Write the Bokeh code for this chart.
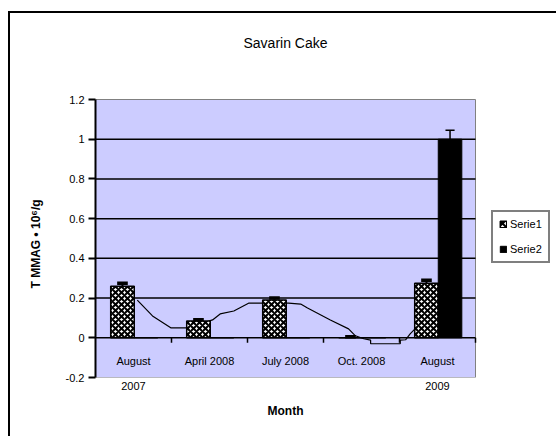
from bokeh.plotting import figure
from bokeh.models import (Range1d, FixedTicker, CustomJSTickFormatter, Legend, LegendItem,
                          ColumnDataSource, Title)
from bokeh.core.properties import value
from bokeh.embed import file_html
from bokeh.resources import INLINE

# ---- data ----
title_text = "Savarin Cake"
x_title = "Month"
y_title = "T MMAG \u2022 10\u2076/g"
categories = ["August\n2007", "April 2008", "July 2008", "Oct. 2008", "August\n2009"]
serie1 = [0.26, 0.085, 0.19, 0.0, 0.275]
serie1_err = [0.015, 0.006, 0.01, 0.005, 0.015]
serie2 = [0.0, 0.0, 0.0, 0.0, 1.0]
serie2_err = [0.0, 0.0, 0.0, 0.0, 0.045]
y_ticks = [-0.2, 0.0, 0.2, 0.4, 0.6, 0.8, 1.0, 1.2]
grid_ticks = [0.0, 0.2, 0.4, 0.6, 0.8, 1.0]

# smoothed connecting curve (x in category units, y in axis units)
curve_x = [0.55, 0.75, 0.99, 1.21, 1.54, 1.64, 1.82, 2.02, 2.19, 2.54, 2.70, 2.79, 3.09,
           3.33, 3.42, 3.53, 3.62, 3.62, 4.01, 4.01, 4.08, 4.14, 4.32, 4.43, 4.51]
curve_y = [0.19, 0.11, 0.05, 0.05, 0.09, 0.12, 0.135, 0.175, 0.175, 0.175, 0.17, 0.15, 0.09,
           0.045, 0.01, -0.005, -0.012, -0.03, -0.03, -0.012, -0.01, 0.02, 0.09, 0.19, 0.25]

FONT = "Liberation Sans"
n = len(categories)
centers = [i + 0.5 for i in range(n)]
off1, off2, bw = -0.145, 0.165, 0.31
x1 = [c + off1 for c in centers]
x2 = [c + off2 for c in centers]

# ---- layout (pixels) ----
W, H = 548, 425
ML, MT, MB = 85, 7, 61
TOP_EXTRA = 79                      # room above the plot area for the chart title
FRAME_W = W - ML
FRAME_H = H - MT - MB
PLOT_W = 380.0                      # pixel width of the category area
PLOT_H = FRAME_H - TOP_EXTRA
ppu = PLOT_H / (y_ticks[-1] - y_ticks[0])
x_end = n * FRAME_W / PLOT_W        # frame extends right to hold the legend
y_end = y_ticks[-1] + TOP_EXTRA / ppu

p = figure(width=W, height=H, output_backend="svg", toolbar_location=None,
           x_range=Range1d(0, x_end), y_range=Range1d(y_ticks[0], y_end),
           min_border_left=ML, min_border_right=0, min_border_top=MT, min_border_bottom=MB,
           background_fill_color="white", border_fill_color="white",
           styles={"border-left": "2px solid black", "border-top": "2px solid black",
                   "margin-top": "11px", "margin-left": "8px"})
p.outline_line_color = None

# chart title, centred over the category area
p.text(x=[n / 2], y=[y_ticks[-1] + 57 / ppu], text=[title_text], text_align="center",
       text_baseline="middle", text_font=value(FONT), text_font_size="14px", text_color="black")

# plot area
p.quad(left=[0], right=[n], bottom=[y_ticks[0]], top=[y_ticks[-1]],
       fill_color="#CCCCFF", line_color="#808080", line_width=1)

# grid
p.xgrid.visible = False
p.ygrid.visible = False
p.segment(x0=[0] * len(grid_ticks), x1=[n] * len(grid_ticks), y0=grid_ticks, y1=grid_ticks,
          line_color="black", line_width=1.5)

# y axis
p.yaxis.bounds = (y_ticks[0], y_ticks[-1])
p.yaxis.ticker = FixedTicker(ticks=y_ticks)
p.yaxis.formatter = CustomJSTickFormatter(code="return (Math.round(tick*10)/10).toString();")
p.yaxis.axis_line_width = 2
p.yaxis.axis_line_color = "black"
p.yaxis.major_tick_line_width = 2
p.yaxis.major_tick_out = 7
p.yaxis.major_tick_in = 0
p.yaxis.minor_tick_line_color = None
p.yaxis.major_label_standoff = 4
p.yaxis.major_label_text_font = FONT
p.yaxis.major_label_text_font_size = "11px"
p.yaxis.major_label_text_color = "black"
p.add_layout(Title(text=y_title, align="left", offset=89, vertical_align="top", standoff=36,
                   text_font=FONT, text_font_size="12px", text_font_style="bold",
                   text_color="black"), "left")

# x axis: labels hang just under the zero line
p.xaxis.bounds = (0, n)
p.xaxis.ticker = FixedTicker(ticks=centers)
p.xaxis.major_label_overrides = {c: lab for c, lab in zip(centers, categories)}
p.xaxis.axis_line_color = None
p.xaxis.major_tick_line_color = None
p.xaxis.minor_tick_line_color = None
p.xaxis.major_tick_out = 0
p.xaxis.major_tick_in = 0
p.xaxis.major_label_standoff = -23
p.xaxis.major_label_text_font = FONT
p.xaxis.major_label_text_font_size = "11px"
p.xaxis.major_label_text_line_height = 2.1
p.xaxis.major_label_text_color = "black"
p.add_layout(Title(text=x_title, align="left", offset=172, standoff=14, text_font=FONT,
                   text_font_size="12px", text_font_style="bold", text_color="black"), "below")

# category boundary ticks under the zero line
bounds = [i + 1 for i in range(n)]
p.segment(x0=bounds, y0=[0] * n, x1=bounds, y1=[-0.025] * n, line_color="black", line_width=1.5)

# curve (behind bars)
p.line(curve_x, curve_y, line_color="black", line_width=1.2)

src = ColumnDataSource(dict(x1=x1, x2=x2, s1=serie1, s2=serie2))
r1 = p.vbar(x="x1", top="s1", bottom=0, width=bw, source=src, fill_color="white",
            line_color="black", line_width=1.5, hatch_pattern="diagonal_cross",
            hatch_color="black", hatch_scale=6, hatch_weight=2)
r2 = p.vbar(x="x2", top="s2", bottom=0, width=bw, source=src, fill_color="black",
            line_color="black", line_width=1)

# error bars
s1_top = [v + e for v, e in zip(serie1, serie1_err)]
p.segment(x0=x1, y0=serie1, x1=x1, y1=s1_top, line_color="black", line_width=2)
p.segment(x0=[x - 0.07 for x in x1], y0=s1_top, x1=[x + 0.07 for x in x1], y1=s1_top,
          line_color="black", line_width=3.5)
e_idx = [i for i in range(n) if serie2_err[i] > 0]
s2_top = [serie2[i] + serie2_err[i] for i in e_idx]
p.segment(x0=[x2[i] for i in e_idx], y0=[serie2[i] for i in e_idx],
          x1=[x2[i] for i in e_idx], y1=s2_top, line_color="black", line_width=1.5)
p.segment(x0=[x2[i] - 0.06 for i in e_idx], y0=s2_top, x1=[x2[i] + 0.06 for i in e_idx],
          y1=s2_top, line_color="black", line_width=1.5)

legend = Legend(items=[LegendItem(label="Serie1", renderers=[r1]),
                       LegendItem(label="Serie2", renderers=[r2])],
                location=(396, 114), orientation="vertical",
                glyph_width=8, glyph_height=8, label_standoff=3, padding=6, spacing=13,
                label_text_font=FONT, label_text_font_size="11px", label_text_color="black",
                border_line_color="black", border_line_width=2.5, background_fill_color="white",
                background_fill_alpha=1, margin=0)
p.add_layout(legend, "center")

open("out.html", "w").write(file_html(p, INLINE))
